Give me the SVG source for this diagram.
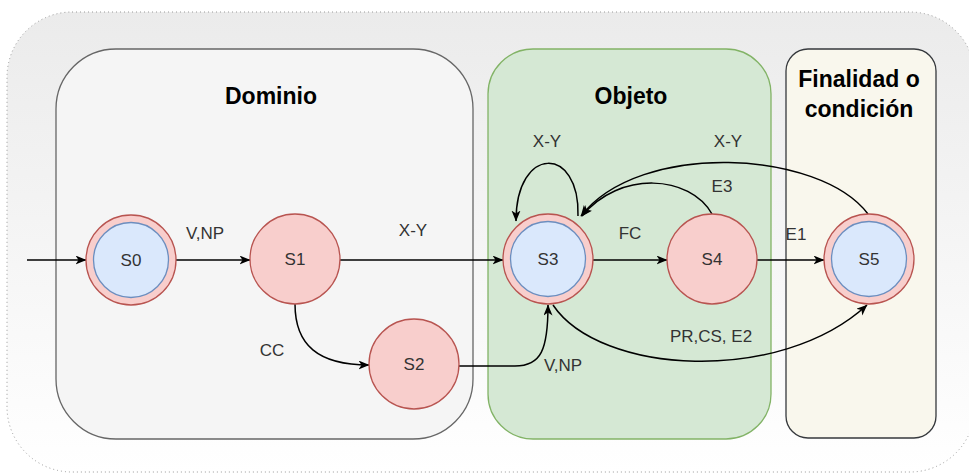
<svg xmlns="http://www.w3.org/2000/svg" width="969" height="475" viewBox="0 0 969 475">
<defs>
<linearGradient id="bg" x1="0" y1="0" x2="0" y2="1">
<stop offset="0" stop-color="#ebebeb"/>
<stop offset="1" stop-color="#ffffff"/>
</linearGradient>
<marker id="arr" markerWidth="12" markerHeight="10" refX="10.5" refY="4.5" orient="auto" markerUnits="userSpaceOnUse">
<path d="M0,0 L11,4.5 L0,9 L3,4.5 Z" fill="#000"/>
</marker>
<style>
.title{font-family:"Liberation Sans",Arial,sans-serif;font-weight:bold;font-size:23px;fill:#000;text-anchor:middle}
.lbl{font-family:"Liberation Sans",Arial,sans-serif;font-size:17px;fill:#333;text-anchor:middle}
.outer{fill:#f8cecc;stroke:#b85450;stroke-width:1.3}
.inner{fill:#dae8fc;stroke:#6c8ebf;stroke-width:1.3}
.edge{fill:none;stroke:#000;stroke-width:1.5;marker-end:url(#arr)}
.edgen{fill:none;stroke:#000;stroke-width:1.5}
</style>
</defs>
<rect x="7" y="12" width="968" height="460" rx="65" ry="65" fill="url(#bg)" stroke="#999" stroke-width="1" stroke-dasharray="1 3"/>
<g id="dominio">
<rect x="56" y="49" width="417" height="390" rx="60" ry="60" fill="#f5f5f5" stroke="#666" stroke-width="1.3"/>
<text class="title" x="271" y="104">Dominio</text>
</g>
<g id="objeto">
<rect x="488" y="49" width="283" height="390" rx="45" ry="45" fill="#d5e8d4" stroke="#82b366" stroke-width="1.3"/>
<text class="title" x="631" y="104">Objeto</text>
</g>
<g id="finalidad">
<rect x="786" y="49" width="150" height="389" rx="22" ry="22" fill="#f9f7ed" stroke="#36393d" stroke-width="1.3"/>
<text class="title" x="859" y="87">Finalidad o</text>
<text class="title" x="859" y="117">condición</text>
</g>
<g id="connectors">
<path class="edge" d="M27,260 L86,260"/>
<path class="edge" d="M176,260 L250,260"/>
<text class="lbl" x="205" y="239">V,NP</text>
<path class="edge" d="M340,260 L503,260"/>
<text class="lbl" x="413" y="236">X-Y</text>
<path class="edge" d="M295,304 C295,345 318,365 369,365"/>
<text class="lbl" x="272" y="356">CC</text>
<path class="edge" d="M459,366 L515,366 C541,366 548,350 548,305"/>
<text class="lbl" x="563" y="371">V,NP</text>
<path class="edge" d="M578,216 C580,145 516,145 516,221"/>
<text class="lbl" x="547" y="147">X-Y</text>
<path class="edge" d="M593,260 L667,260"/>
<text class="lbl" x="630" y="239">FC</text>
<path class="edge" d="M712,214 C690,175 620,170 582,216"/>
<text class="lbl" x="722" y="192">E3</text>
<path class="edge" d="M868,214 C820,150 640,140 581,216"/>
<text class="lbl" x="728" y="147">X-Y</text>
<path class="edge" d="M757,260 L824,260"/>
<text class="lbl" x="796" y="240">E1</text>
<path class="edge" d="M553,305 C600,375 780,385 867,305"/>
<text class="lbl" x="711" y="342">PR,CS, E2</text>
</g>
<g id="S0">
<circle class="outer" cx="131" cy="260" r="45"/>
<circle class="inner" cx="131" cy="260" r="37.5"/>
<text class="lbl" x="131" y="266">S0</text>
</g>
<g id="S1">
<circle class="outer" cx="295" cy="259" r="45"/>
<text class="lbl" x="295" y="265">S1</text>
</g>
<g id="S2">
<circle class="outer" cx="414" cy="364" r="45"/>
<text class="lbl" x="414" y="370">S2</text>
</g>
<g id="S3">
<circle class="outer" cx="548" cy="259" r="45"/>
<circle class="inner" cx="548" cy="259" r="37.5"/>
<text class="lbl" x="548" y="265">S3</text>
</g>
<g id="S4">
<circle class="outer" cx="712" cy="259" r="45"/>
<text class="lbl" x="712" y="265">S4</text>
</g>
<g id="S5">
<circle class="outer" cx="869" cy="259" r="45"/>
<circle class="inner" cx="869" cy="259" r="37.5"/>
<text class="lbl" x="869" y="265">S5</text>
</g>
</svg>
